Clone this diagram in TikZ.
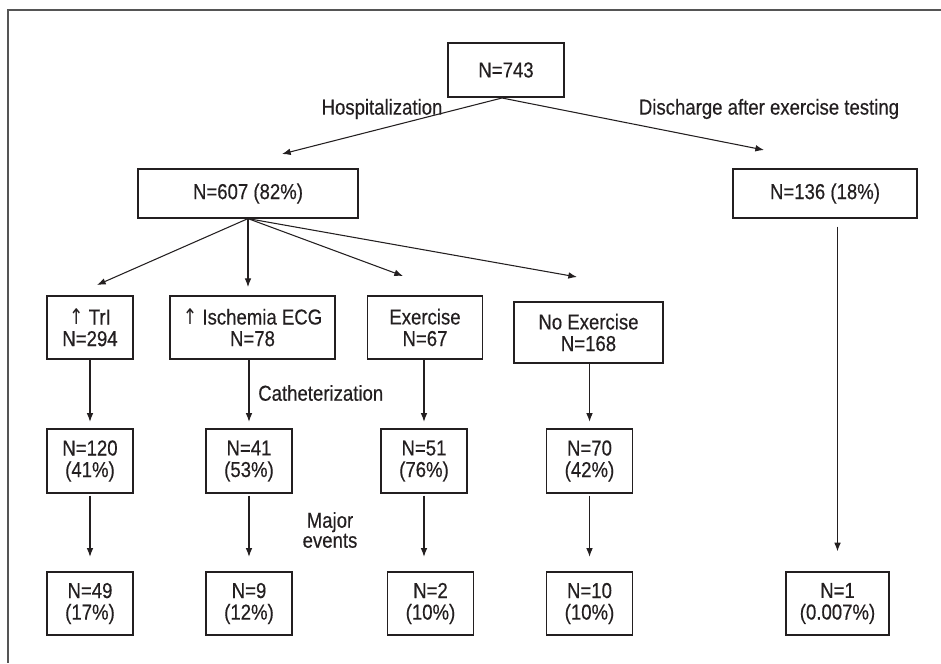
\documentclass[tikz,border=0pt]{standalone}
\usepackage{fontspec}
\setmainfont{Liberation Sans}[FakeStretch=0.86, FakeBold=0.4]
\newfontfamily\arrowfont{DejaVu Sans}[FakeStretch=0.8]
\usetikzlibrary{arrows.meta}
\definecolor{ink}{HTML}{231F20}
\definecolor{frame}{HTML}{555555}
\newcommand{\up}{{\arrowfont ↑}}
\begin{document}
\begin{tikzpicture}[x=0.75pt, y=-0.75pt,
  box/.style={draw=ink, line width=0.9pt, text=ink, align=center, inner sep=0pt,
    font=\fontsize{16.2}{16.2}\selectfont},
  lbl/.style={text=ink, align=center, inner sep=0pt, font=\fontsize{16.2}{15}\selectfont},
  arr/.style={draw=ink, line width=0.8pt, -{Latex[length=6.5pt,width=5pt]}}]
\useasboundingbox (0,0) rectangle (941,663);
\draw[frame, line width=1.1pt] (941,10) -- (8,10) -- (8,663);
% top
\node[box, minimum width=87pt, minimum height=40.5pt] (n743) at (506,70) {N=743};
\node[box, minimum width=165pt, minimum height=36.75pt] (n607) at (248,193.5) {N=607 (82\%)};
\node[box, minimum width=138pt, minimum height=36.75pt] (n136) at (825,193.5) {N=136 (18\%)};
% groups
\node[box, minimum width=64.5pt, minimum height=47.25pt] (tri) at (90,327.5) {\up\ TrI\\N=294};
\node[box, minimum width=123.75pt, minimum height=47.25pt] (isch) at (252.5,327.5) {\up\ Ischemia ECG\\N=78};
\node[box, minimum width=86.25pt, minimum height=47.25pt] (exer) at (425,327.5) {Exercise\\N=67};
\node[box, minimum width=111.75pt, minimum height=45.75pt] (noex) at (588.5,332.5) {No Exercise\\N=168};
% catheterization
\node[box, minimum width=64.5pt, minimum height=48pt] (n120) at (90,461) {N=120\\(41\%)};
\node[box, minimum width=64.5pt, minimum height=48pt] (n41) at (249,461) {N=41\\(53\%)};
\node[box, minimum width=64.5pt, minimum height=48pt] (n51) at (424,461) {N=51\\(76\%)};
\node[box, minimum width=64.5pt, minimum height=48pt] (n70) at (589.5,461) {N=70\\(42\%)};
% major events
\node[box, minimum width=64.5pt, minimum height=47.25pt] (n49) at (90,603.5) {N=49\\(17\%)};
\node[box, minimum width=64.5pt, minimum height=47.25pt] (n9) at (249,603.5) {N=9\\(12\%)};
\node[box, minimum width=64.5pt, minimum height=47.25pt] (n2) at (430.5,603.5) {N=2\\(10\%)};
\node[box, minimum width=64.5pt, minimum height=47.25pt] (n10) at (589.5,603.5) {N=10\\(10\%)};
\node[box, minimum width=77.25pt, minimum height=47.25pt] (n1) at (837.5,603.5) {N=1\\(0.007\%)};
% labels
\node[lbl] (hosp) at (382,109) {Hospitalization};
\node[lbl] (disc) at (769,109) {Discharge after exercise testing};
\node[lbl, anchor=west] (cath) at (258,393) {Catheterization};
\node[lbl] (major) at (330,530) {Major\\events};
% arrow ends
\coordinate (h1) at (282,154);
\coordinate (h2) at (764,150);
\coordinate (t1) at (97,285);
\coordinate (t2) at (248,287);
\coordinate (t3) at (403,276);
\coordinate (t4) at (577,277);
\coordinate (top) at (502,98);
\draw[arr] (top) -- (h1);
\draw[arr] (top) -- (h2);
\draw[arr] (n607.south) -- (t1);
\draw[arr] (n607.south) -- (t2);
\draw[arr] (n607.south) -- (t3);
\draw[arr] (n607.south) -- (t4);
\draw[arr, shorten >=5pt] (n120 |- tri.south) -- (n120);
\draw[arr, shorten >=5pt] (n41 |- isch.south) -- (n41);
\draw[arr, shorten >=5pt] (n51 |- exer.south) -- (n51);
\draw[arr, shorten >=5pt] (n70 |- noex.south) -- (n70);
\draw[arr, shorten <=1.5pt, shorten >=11pt] (n120) -- (n49);
\draw[arr, shorten <=1.5pt, shorten >=11pt] (n41) -- (n9);
\draw[arr, shorten <=1.5pt, shorten >=11pt] (n51.south) -- (n51.south |- n2.north);
\draw[arr, shorten <=1.5pt, shorten >=11pt] (n70) -- (n10);
\draw[arr, shorten <=6pt, shorten >=15pt] (n1 |- n136.south) -- (n1);
\end{tikzpicture}
\end{document}
